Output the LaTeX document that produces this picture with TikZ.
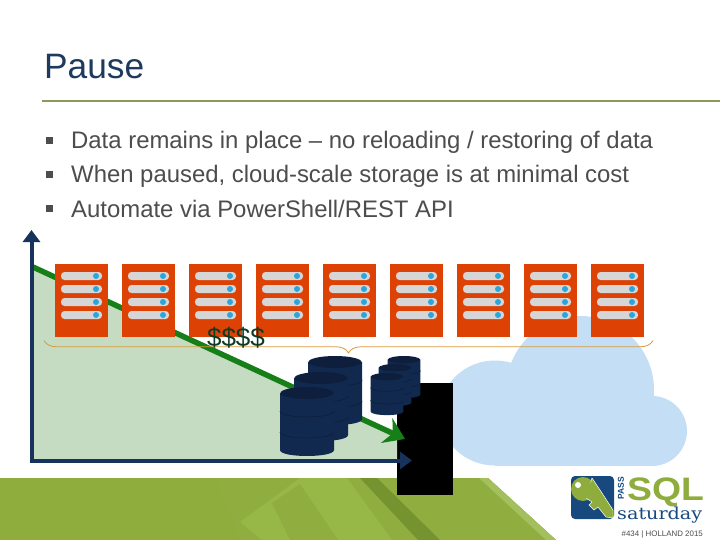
\documentclass[tikz,border=0pt]{standalone}
\usepackage{fontspec}
\setmainfont{Liberation Sans}
\newfontfamily\slabfont{DejaVu Serif}
\usetikzlibrary{arrows.meta,calc,decorations.pathreplacing}
\definecolor{titleblue}{HTML}{1F3A5F}
\definecolor{bodygray}{HTML}{4D4D4D}
\definecolor{ruleolive}{HTML}{8A9A5B}
\definecolor{axisblue}{HTML}{17335C}
\definecolor{dbblue}{HTML}{12294F}
\definecolor{dbtop}{HTML}{0D1F3D}
\definecolor{costgreen}{HTML}{177F17}
\definecolor{areagreen}{HTML}{C5DCC2}
\definecolor{srvorange}{HTML}{DD4104}
\definecolor{srvbar}{HTML}{D6D6D6}
\definecolor{srvdot}{HTML}{2BA6DC}
\definecolor{cloudblue}{HTML}{C4DFF5}
\definecolor{footgreen}{HTML}{8EAD3D}
\definecolor{footmid}{HTML}{90AE3F}
\definecolor{footlight}{HTML}{97B746}
\definecolor{footpale}{HTML}{A3BF5E}
\definecolor{footdark}{HTML}{759430}
\definecolor{bracegold}{HTML}{D99A3A}
\definecolor{keyblue}{HTML}{17497F}

\tikzset{
  dbstack/.pic={
    \fill[dbblue] (-27,6) -- (-27,63) .. controls (-27,71) and (27,71) .. (27,63) -- (27,6) -- cycle;
    \fill[dbtop] (0,6) ellipse [x radius=26.5,y radius=6];
    \draw[dbtop,line width=0.7pt] (-27,24) .. controls (-27,32) and (27,32) .. (27,24);
    \draw[dbtop,line width=0.7pt] (-27,45) .. controls (-27,53) and (27,53) .. (27,45);
  }
}

\begin{document}
\begin{tikzpicture}[x=1pt,y=-1pt,>=Stealth,
  bodytxt/.style={anchor=base west,text=bodygray,font=\fontsize{23.9}{28}\selectfont,inner sep=0pt},
  bull/.style={fill=bodygray,minimum size=7pt,inner sep=0pt},
  srv/.style={fill=srvorange,anchor=north west,minimum width=53pt,minimum height=73pt,inner sep=0pt},
  sbar/.style={fill=srvbar,rounded corners=3.5pt,minimum width=41pt,minimum height=8pt,inner sep=0pt},
  sdot/.style={circle,fill=srvdot,minimum size=6pt,inner sep=0pt},
  axisline/.style={draw=axisblue,line width=4pt,line cap=rect,-{Triangle[width=17pt,length=12pt]}}]
\useasboundingbox (0,0) rectangle (720,540);
\fill[white] (0,0) rectangle (720,540);

% footer band
\fill[footgreen] (0,478) -- (488,478) -- (556,540) -- (0,540) -- cycle;
\fill[footmid] (215,478) -- (488,478) -- (556,540) -- (240,540) -- cycle;
\fill[footlight] (240,522) -- (300,478) -- (347,478) -- (392,540) -- (262,540) -- cycle;
\fill[footmid] (272,503) -- (300,484) -- (338,540) -- (290,540) -- cycle;
\fill[footdark] (360,478) -- (377,478) -- (440,540) -- (418,540) -- cycle;
\fill[footpale] (479,478) -- (488,478) -- (556,540) -- (546,540) -- cycle;

% cloud
\fill[cloudblue] (580,390) circle (74);
\fill[cloudblue] (495,413) ellipse [x radius=55,y radius=52.5];
\fill[cloudblue] (652,431) circle (35);
\fill[cloudblue] (495,400) rectangle (652,465.5);

\node[fill=black,anchor=north west,minimum width=56pt,minimum height=112pt,inner sep=0pt] (blk) at (397,383) {};

% chart
\coordinate (org) at (31.5,460.5);
\coordinate (ytop) at (31.5,230);
\coordinate (xend) at (412,460.5);
\coordinate (cstart) at (33,267);
\coordinate (cend) at (405,439);
\fill[areagreen] (cstart) -- (397,435) -- (397,460) -- (org) -- cycle;
\draw[costgreen,line width=5.5pt,-{Stealth[width=27pt,length=20pt]}] (cstart) -- (cend);
\draw[axisline] (org) -- (ytop);
\draw[axisline] (org) -- (xend);

% databases
\pic at (335,356) {dbstack};
\pic at (321,372) {dbstack};
\pic at (307,387) {dbstack};
\pic[scale=0.61] at (404,356) {dbstack};
\pic[scale=0.61] at (395,364) {dbstack};
\pic[scale=0.61] at (387,373) {dbstack};

% servers
\foreach \i/\sx in {1/55,2/122,3/189,4/256,5/323,6/390,7/457,8/524,9/591}{
  \node[srv] (srv\i) at (\sx,264) {};
  \foreach \j/\sy in {1/12,2/25,3/38,4/51}{
    \node[sbar] (bar\i\j) at ($(srv\i.north west)+(26.5,\sy)$) {};
    \node[sdot] (dot\i\j) at ($(srv\i.north west)+(41,\sy)$) {};
  }
}

% brace and price
\coordinate (bl) at (44,340.5);
\coordinate (br) at (653,340.5);
\draw[bracegold,line width=0.8pt,decorate,decoration={brace,mirror,amplitude=12.5pt}] (bl) -- (br);
\node[text=dbblue!50!costgreen!70!black,font=\fontsize{26}{30}\selectfont,inner sep=0pt] (price) at (236,338) {\$\$\$\$};

% title and bullets
\node[anchor=base west,text=titleblue,font=\fontsize{35.3}{40}\selectfont,inner sep=0pt] (ttl) at (44,79) {Pause};
\coordinate (rl) at (42,101.5);
\coordinate (rr) at (720,101.5);
\draw[ruleolive,line width=2pt] (rl) -- (rr);
\node[bull] (b1) at (49,140.5) {};
\node[bull] (b2) at (49,174.5) {};
\node[bull] (b3) at (49,209) {};
\node[bodytxt] (l1) at (71,149) {Data remains in place -- no reloading / restoring of data};
\node[bodytxt] (l2) at (71,183) {When paused, cloud-scale storage is at minimal cost};
\node[bodytxt] (l3) at (71,218) {Automate via PowerShell/REST API};

% logo
\fill[keyblue,rounded corners=4pt] (571,476) rectangle (614,519);
\fill[footgreen] (583,489) circle (12);
\fill[footgreen,draw=white,line width=0.5pt] (592,478) -- (600,490) -- (613,510) -- (613,518) -- (606,517) -- (598,507) -- (594,510) -- (589,505) -- (592,502) -- (586,498) -- cycle;
\fill[footgreen] (583,489) circle (10);
\fill[white] (578,485) circle (3);
\node[rotate=90,text=keyblue,font=\bfseries\fontsize{8.5}{9}\selectfont,inner sep=0pt] (pass) at (621,488) {PASS};
\node[anchor=base west,text=footgreen,font=\bfseries\fontsize{32.5}{36}\selectfont,xscale=1.15,inner sep=0pt] (sql) at (627,500.5) {SQL};
\node[anchor=base west,text=keyblue,font=\slabfont\fontsize{16.6}{20}\selectfont,xscale=1.155,inner sep=0pt] (sat) at (617,519) {saturday};
\node[anchor=base east,text=bodygray,font=\fontsize{7.9}{9}\selectfont,inner sep=0pt] (evt) at (703,536) {\#434 | HOLLAND 2015};
\end{tikzpicture}
\end{document}
